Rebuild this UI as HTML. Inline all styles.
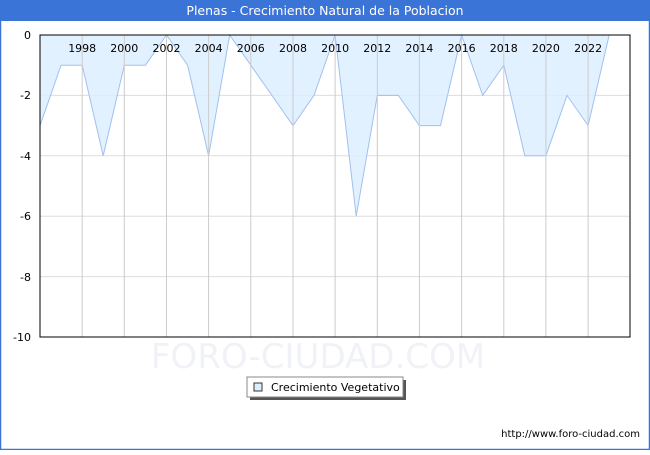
<!DOCTYPE html><html><head><style>body{margin:0}</style></head><body>
<svg width="650" height="450" xmlns="http://www.w3.org/2000/svg" font-family="DejaVu Sans, Liberation Sans, sans-serif">
<rect x="0" y="0" width="650" height="450" fill="#fff"/>
<rect x="0.5" y="0.5" width="649" height="449" fill="none" stroke="#3a74d6" stroke-width="1.5"/>
<rect x="0" y="0" width="650" height="21" fill="#3a74d6"/>
<text x="325" y="15" fill="#fff" font-size="12.5" text-anchor="middle">Plenas - Crecimiento Natural de la Poblacion</text>
<text x="318" y="368" fill="#f0f2f8" font-size="34" text-anchor="middle">FORO-CIUDAD.COM</text>
<g stroke="#ddd" stroke-width="1">
<line x1="40" x2="630" y1="95.4" y2="95.4"/><line x1="40" x2="630" y1="155.8" y2="155.8"/><line x1="40" x2="630" y1="216.2" y2="216.2"/><line x1="40" x2="630" y1="276.6" y2="276.6"/>
</g>
<polygon fill="#ddeeff" fill-opacity="0.85" stroke="#a0c0ee" stroke-width="1" points="40,35 40,125.6 61.1,65.2 82.2,65.2 103.2,155.8 124.3,65.2 145.4,65.2 166.5,35 187.6,65.2 208.6,155.8 229.7,35 250.8,65.2 271.9,95.4 293,125.6 314,95.4 335.1,35 356.2,216.2 377.3,95.4 398.4,95.4 419.4,125.6 440.5,125.6 461.6,35 482.7,95.4 503.8,65.2 524.8,155.8 545.9,155.8 567,95.4 588.1,125.6 609.2,35"/>
<g stroke="#ccc" stroke-width="1">
<line x1="82.2" x2="82.2" y1="35" y2="337"/><line x1="124.3" x2="124.3" y1="35" y2="337"/><line x1="166.5" x2="166.5" y1="35" y2="337"/><line x1="208.6" x2="208.6" y1="35" y2="337"/><line x1="250.8" x2="250.8" y1="35" y2="337"/><line x1="293" x2="293" y1="35" y2="337"/><line x1="335.1" x2="335.1" y1="35" y2="337"/><line x1="377.3" x2="377.3" y1="35" y2="337"/><line x1="419.4" x2="419.4" y1="35" y2="337"/><line x1="461.6" x2="461.6" y1="35" y2="337"/><line x1="503.8" x2="503.8" y1="35" y2="337"/><line x1="545.9" x2="545.9" y1="35" y2="337"/><line x1="588.1" x2="588.1" y1="35" y2="337"/>
</g>
<rect x="40" y="35" width="590" height="302" fill="none" stroke="#000" stroke-width="1"/>
<g font-size="11" fill="#000" text-anchor="middle">
<text x="82.2" y="52">1998</text><text x="124.3" y="52">2000</text><text x="166.5" y="52">2002</text><text x="208.6" y="52">2004</text><text x="250.8" y="52">2006</text><text x="293" y="52">2008</text><text x="335.1" y="52">2010</text><text x="377.3" y="52">2012</text><text x="419.4" y="52">2014</text><text x="461.6" y="52">2016</text><text x="503.8" y="52">2018</text><text x="545.9" y="52">2020</text><text x="588.1" y="52">2022</text>
</g>
<g font-size="11" fill="#000" text-anchor="end">
<text x="31" y="39">0</text><text x="31" y="99">-2</text><text x="31" y="160">-4</text><text x="31" y="220">-6</text><text x="31" y="281">-8</text><text x="31" y="341">-10</text>
</g>
<rect x="250" y="380" width="156" height="20" fill="#555"/>
<rect x="247" y="377" width="156" height="20" fill="#fff" stroke="#888"/>
<rect x="254" y="383" width="8" height="8" fill="#ddeeff" stroke="#333" stroke-width="1"/>
<text x="271" y="391" font-size="11">Crecimiento Vegetativo</text>
<text x="640" y="437" font-size="10" text-anchor="end">http://www.foro-ciudad.com</text>
</svg>
</body></html>
